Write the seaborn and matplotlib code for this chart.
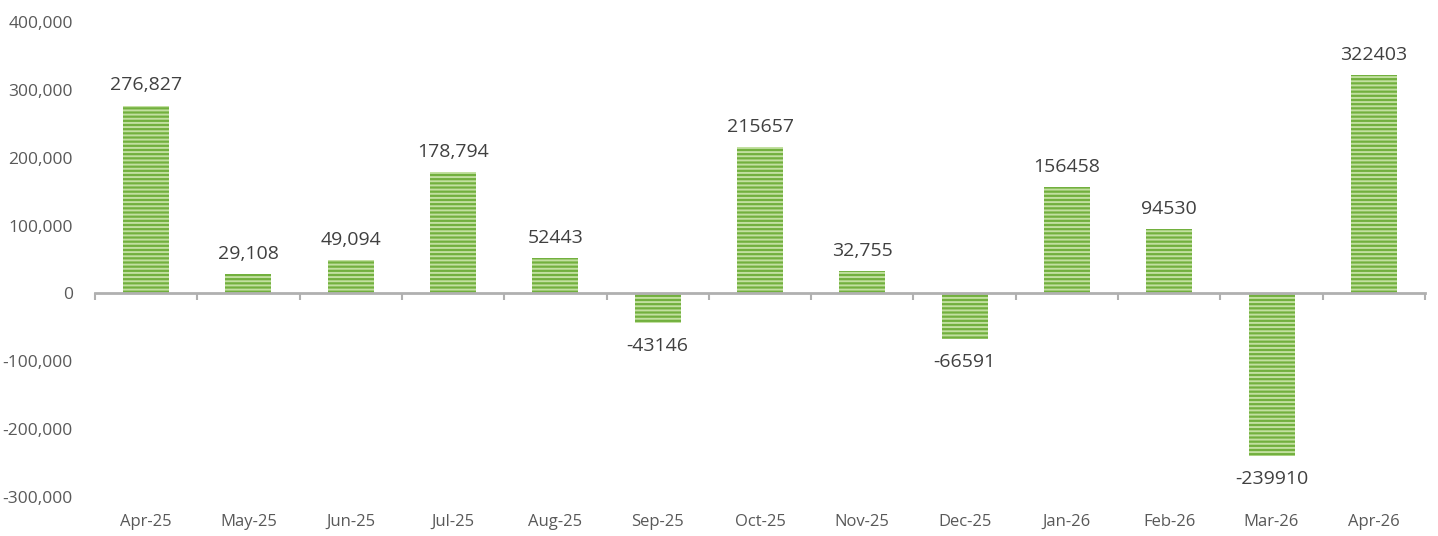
import matplotlib
matplotlib.use("Agg")
import matplotlib.pyplot as plt
import seaborn as sns
import pandas as pd
from matplotlib.ticker import FuncFormatter

months = ["Apr-25", "May-25", "Jun-25", "Jul-25", "Aug-25", "Sep-25", "Oct-25",
          "Nov-25", "Dec-25", "Jan-26", "Feb-26", "Mar-26", "Apr-26"]
values = [276827, 29108, 49094, 178794, 52443, -43146, 215657,
          32755, -66591, 156458, 94530, -239910, 322403]
value_labels = ["276,827", "29,108", "49,094", "178,794", "52443", "-43146", "215657",
                "32,755", "-66591", "156458", "94530", "-239910", "322403"]

sns.set_theme(style="white")
plt.rcParams['font.family'] = ['Open Sans', 'DejaVu Sans']
plt.rcParams['hatch.linewidth'] = 1.4

df = pd.DataFrame({"month": months, "value": values})

fig = plt.figure(figsize=(14.38, 5.36), dpi=100)
ax = fig.add_axes([95/1438, 1-497/536, (1425-95)/1438, (497-22)/536])

sns.barplot(data=df, x="month", y="value", color="#72b03e", width=0.45,
            saturation=1, ax=ax)
for p in ax.patches:
    p.set_hatch("----")
    p.set_edgecolor("#c2e0a0")
    p.set_linewidth(0)

ax.set_xlim(-0.5, len(months) - 0.5)
ax.set_ylim(-300000, 400000)
ax.set_yticks(range(-300000, 400001, 100000))
ax.yaxis.set_major_formatter(FuncFormatter(lambda v, _: f"{int(v):,}"))
ax.tick_params(axis="y", length=0, labelsize=12.5, labelcolor="#595959", pad=16)
ax.set_xlabel("")
ax.set_ylabel("")

for s in ["top", "right", "left"]:
    ax.spines[s].set_visible(False)
ax.spines["bottom"].set_position(("data", 0))
ax.spines["bottom"].set_color("#b0b0b0")
ax.spines["bottom"].set_linewidth(2)
ax.set_xticks([i + 0.5 for i in range(-1, len(months))], minor=True)
ax.set_xticks(range(len(months)))
ax.tick_params(axis="x", which="major", length=0, labelbottom=False)
ax.tick_params(axis="x", which="minor", length=5, width=1.5, color="#b0b0b0",
               direction="out", bottom=True)

sec = ax.secondary_xaxis("bottom")
sec.set_xticks(range(len(months)))
sec.set_xticklabels(months)
sec.tick_params(length=0, labelsize=12, labelcolor="#595959", pad=12)
sec.spines["bottom"].set_visible(False)

for i, (v, lab) in enumerate(zip(values, value_labels)):
    if v >= 0:
        ax.annotate(lab, (i, v), xytext=(0, 8), textcoords="offset points",
                    ha="center", va="bottom", fontsize=14, color="#404040")
    else:
        ax.annotate(lab, (i, v), xytext=(0, -10), textcoords="offset points",
                    ha="center", va="top", fontsize=14, color="#404040")

fig.savefig("out.png", dpi=100)
